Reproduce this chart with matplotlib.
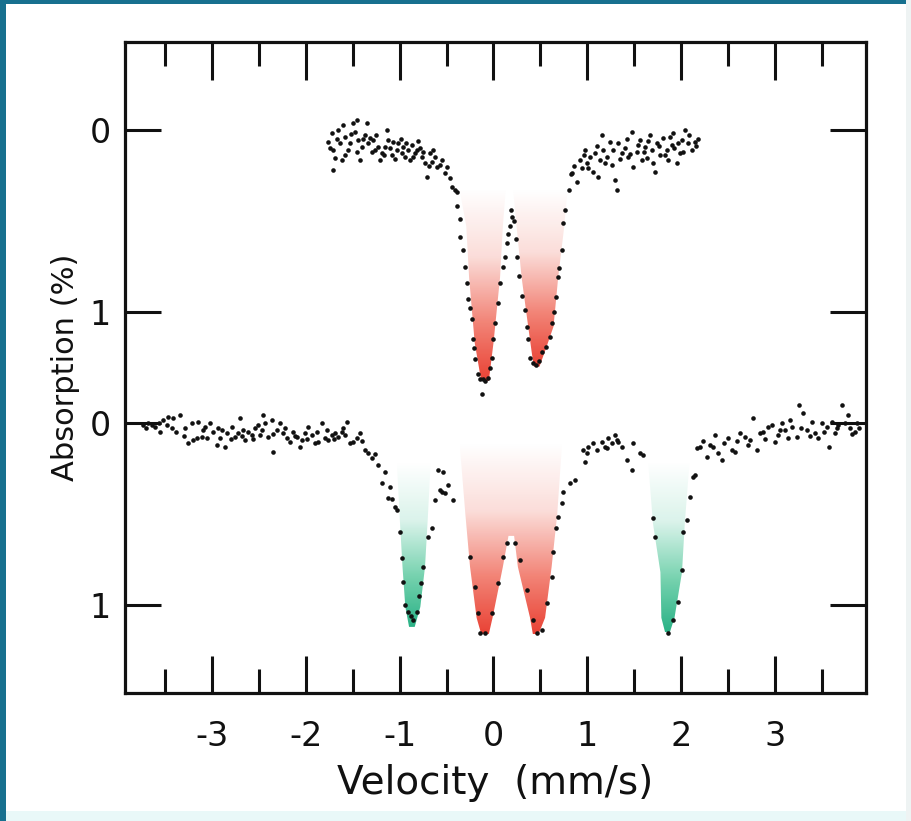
import numpy as np
import matplotlib
matplotlib.use("Agg")
import matplotlib.pyplot as plt
from matplotlib.colors import LinearSegmentedColormap
from matplotlib.patches import Polygon, Rectangle

# ---------------------------------------------------------------------
# DATA  (velocity in mm/s, absorption in %)
# ---------------------------------------------------------------------
# upper spectrum: doublet
top_v = [
    -1.761, -1.725, -1.708, -1.690, -1.708, -1.654, -1.636, -1.619, -1.601, -1.583,
    -1.548, -1.530, -1.494, -1.477, -1.459, -1.441, -1.423, -1.405, -1.370, -1.352,
    -1.334, -1.317, -1.281, -1.263, -1.228, -1.210, -1.192, -1.157, -1.139, -1.121,
    -1.086, -1.068, -1.032, -1.014, -0.979, -0.961, -0.944, -0.908, -0.890, -0.872,
    -0.837, -0.819, -0.784, -0.766, -0.730, -0.712, -0.677, -0.659, -0.623, -0.605,
    -0.570, -0.552, -0.517, -0.499, -0.464, -0.446, -0.410, -0.393,
    -1.74, -1.67, -1.58, -1.52, -1.46, -1.39, -1.30, -1.25, -1.17, -1.10,
    -1.05, -0.99, -0.93, -0.86, -0.80, -0.75, -0.69, -0.64,
    -0.39, -0.36, -0.36, -0.33, -0.30, -0.28, -0.27, -0.25, -0.23, -0.22,
    -0.21, -0.20, -0.16, -0.14, -0.11, -0.12, -0.09, -0.06, -0.04, -0.02,
    0.00, 0.02, 0.05, 0.07, 0.10, 0.12, 0.14, 0.16, 0.18, 0.20,
    0.19, 0.22, 0.24, 0.25, 0.27, 0.30, 0.34, 0.36, 0.37, 0.39,
    0.42, 0.45, 0.48, 0.52, 0.56, 0.60, 0.62, 0.64, 0.67, 0.69,
    0.70, 0.73, 0.74, 0.76, 0.80, 0.83,
    0.833, 0.887, 0.922, 0.940, 0.975, 0.993, 1.029, 1.064, 1.082, 1.118,
    1.135, 1.153, 1.171, 1.206, 1.242, 1.260, 1.295, 1.313, 1.331, 1.366,
    1.402, 1.437, 1.473, 1.491, 1.526, 1.562, 1.580, 1.615, 1.633, 1.668,
    1.704, 1.722, 1.740, 1.775, 1.811, 1.846, 1.864, 1.899, 1.917, 1.953,
    1.988, 2.006, 2.042, 2.077, 2.113, 2.148,
    0.86, 0.96, 1.01, 1.10, 1.19, 1.27, 1.35, 1.42, 1.46, 1.54,
    1.60, 1.65, 1.69, 1.76, 1.83, 1.88, 1.93, 1.97, 2.02, 2.09,
    2.16, 2.18,
]
top_abs = [
    0.064, 0.018, 0.110, 0.156, 0.220, 0.000, 0.073, 0.165, -0.027, 0.037,
    0.110, 0.073, -0.037, 0.009, -0.055, 0.055, 0.165, 0.092, 0.027, -0.037,
    0.073, 0.046, 0.055, 0.110, 0.092, 0.165, 0.128, 0.092, 0.000, 0.055,
    0.137, 0.064, 0.110, 0.073, 0.128, 0.092, 0.147, 0.110, 0.165, 0.082,
    0.128, 0.110, 0.101, 0.147, 0.183, 0.256, 0.128, 0.174, 0.147, 0.201,
    0.192, 0.165, 0.238, 0.201, 0.266, 0.311, 0.330, 0.339,
    0.10, 0.05, 0.14, 0.02, 0.12, 0.05, 0.12, 0.03, 0.14, 0.10,
    0.16, 0.05, 0.07, 0.15, 0.06, 0.12, 0.20, 0.11,
    0.42, 0.49, 0.59, 0.66, 0.75, 0.84, 0.93, 0.98, 1.04, 1.15,
    1.20, 1.26, 1.34, 1.37, 1.37, 1.45, 1.38, 1.36, 1.31, 1.25,
    1.15, 1.06, 0.95, 0.84, 0.75, 0.70, 0.62, 0.57, 0.53, 0.48,
    0.44, 0.50, 0.60, 0.70, 0.80, 0.91, 0.99, 1.08, 1.15, 1.25,
    1.28, 1.29, 1.27, 1.22, 1.19, 1.14, 1.06, 1.00, 0.92, 0.81,
    0.76, 0.66, 0.51, 0.44, 0.33, 0.24,
    0.238, 0.284, 0.165, 0.211, 0.110, 0.183, 0.147, 0.229, 0.128, 0.256,
    0.165, 0.027, 0.110, 0.147, 0.064, 0.192, 0.275, 0.330, 0.073, 0.128,
    0.101, 0.147, 0.009, 0.201, 0.119, 0.055, 0.165, 0.092, 0.156, 0.027,
    0.183, 0.229, 0.073, 0.137, 0.046, 0.110, 0.165, 0.082, 0.018, 0.183,
    0.128, 0.055, 0.000, 0.073, 0.110, 0.064,
    0.20, 0.14, 0.21, 0.09, 0.18, 0.11, 0.16, 0.05, 0.13, 0.08,
    0.12, 0.06, 0.11, 0.09, 0.14, 0.04, 0.10, 0.07, 0.12, 0.03,
    0.09, 0.05,
]

# lower spectrum: doublet + two outer lines
bot_v = [
    -3.733, -3.680, -3.609, -3.555, -3.520, -3.484, -3.466, -3.431, -3.413, -3.342,
    -3.289, -3.253, -3.218, -3.200, -3.165, -3.147, -3.111, -3.076, -3.058, -3.022,
    -2.987, -2.951, -2.934, -2.898, -2.863, -2.845, -2.791, -2.756, -2.720, -2.703,
    -2.667, -2.649, -2.614, -2.578, -2.543, -2.507, -2.489, -2.454, -2.436, -2.400,
    -2.365, -2.347, -2.311, -2.276, -2.240, -2.205, -2.169, -2.134, -2.098, -2.063,
    -2.045, -2.010, -1.974, -1.938, -1.903, -1.867, -1.832, -1.796, -1.761, -1.725,
    -1.690, -1.654, -1.618, -1.583, -1.565, -1.530, -1.494, -1.423, -1.370, -1.334,
    -1.299, -1.228, -1.192, -1.121, -1.103, -1.050, -1.032, -0.979, -0.961, -0.943,
    -0.907, -0.855, -0.748,
    -3.70, -3.64, -3.57, -3.38, -3.30, -3.10, -2.92, -2.80, -2.68, -2.56,
    -2.47, -2.35, -2.22, -2.12, -1.99, -1.88, -1.78, -1.70, -1.60, -1.46,
    -1.40, -1.26, -1.16, -1.08, -1.00, -0.88, -0.82, -0.79, -0.77,
    -0.695, -0.659, -0.623, -0.588, -0.570, -0.552, -0.535, -0.517, -0.481, -0.428,
    -0.251, -0.198, -0.162, -0.144, -0.091, -0.020, 0.052, 0.105, 0.141, 0.230,
    0.283, 0.354, 0.425, 0.460, 0.514, 0.567, 0.620, 0.638, 0.667, 0.691,
    0.727, 0.745, 0.816, 0.869, 0.976, 0.994,
    0.958, 1.011, 1.065, 1.100, 1.153, 1.189, 1.225, 1.260, 1.296, 1.331,
    1.367, 1.420, 1.473, 1.491, 1.562, 1.598, 1.206, 1.313,
    1.704, 1.722, 1.864, 1.917, 1.970, 2.006, 2.024, 2.059, 2.095, 2.131,
    2.148,
    2.166, 2.202, 2.273, 2.308, 2.362, 2.397, 2.433, 2.504, 2.539, 2.575,
    2.628, 2.681, 2.735, 2.770, 2.806, 2.841, 2.877, 2.930, 2.966, 3.002,
    3.037, 3.073, 3.108, 3.162, 3.180, 3.233, 3.262, 3.304, 3.340, 3.393,
    3.428, 3.464, 3.500, 3.553, 3.582, 3.606, 3.642, 3.677, 3.713, 3.748,
    3.784, 3.802, 3.855, 3.873,
    2.23, 2.34, 2.46, 2.60, 2.71, 2.90, 3.05, 3.14, 3.28, 3.37,
    3.52, 3.66, 3.82, 3.90,
]
bot_abs = [
    0.011, 0.002, 0.020, 0.048, -0.016, 0.011, -0.035, 0.029, -0.026, -0.044,
    0.029, 0.112, 0.002, 0.093, 0.084, -0.007, 0.075, 0.020, 0.084, 0.002,
    0.048, 0.121, 0.029, 0.038, 0.130, 0.057, 0.020, 0.075, 0.057, -0.026,
    0.038, 0.093, 0.048, 0.066, 0.029, 0.011, 0.066, -0.044, 0.002, 0.075,
    -0.016, 0.158, 0.038, 0.002, 0.057, 0.084, 0.103, 0.048, 0.075, 0.130,
    0.093, 0.057, 0.020, 0.066, 0.112, 0.103, 0.002, 0.084, 0.093, 0.066,
    0.057, 0.075, 0.048, 0.066, -0.007, 0.112, 0.103, 0.057, 0.148, 0.167,
    0.194, 0.231, 0.331, 0.414, 0.350, 0.460, 0.478, 0.744, 0.872, 1.000,
    1.037, 1.082, 0.789,
    0.03, 0.01, 0.00, 0.05, 0.07, 0.04, 0.08, 0.09, 0.07, 0.09,
    0.04, 0.06, 0.03, 0.07, 0.09, 0.05, 0.04, 0.09, 0.03, 0.08,
    0.10, 0.17, 0.27, 0.42, 0.60, 1.06, 1.04, 0.95, 0.88,
    0.625, 0.579, 0.423, 0.258, 0.368, 0.377, 0.267, 0.386, 0.341, 0.423,
    0.734, 0.899, 1.046, 1.156, 1.156, 1.046, 0.881, 0.734, 0.661, 0.661,
    0.753, 0.918, 1.082, 1.156, 1.137, 0.991, 0.844, 0.707, 0.579, 0.515,
    0.441, 0.377, 0.331, 0.313, 0.212, 0.167,
    0.148, 0.130, 0.112, 0.148, 0.103, 0.130, 0.084, 0.112, 0.066, 0.103,
    0.130, 0.203, 0.258, 0.112, 0.167, 0.176, 0.139, 0.092,
    0.524, 0.624, 1.156, 1.082, 0.981, 0.808, 0.597, 0.533, 0.405, 0.295,
    0.286,
    0.139, 0.130, 0.185, 0.121, 0.066, 0.167, 0.203, 0.084, 0.148, 0.158,
    0.057, 0.075, 0.092, -0.026, 0.148, 0.057, 0.048, 0.020, 0.011, 0.103,
    0.066, 0.002, 0.038, -0.016, 0.020, 0.075, -0.099, -0.055, 0.038, -0.007,
    0.057, 0.084, 0.002, 0.020, 0.130, -0.007, 0.057, 0.011, -0.099, 0.002,
    -0.044, 0.029, 0.048, 0.002,
    0.10, 0.13, 0.11, 0.10, 0.12, 0.09, 0.04, 0.08, 0.03, 0.07,
    0.05, 0.03, 0.06, 0.03,
]

# outlines of the shaded absorption lines (velocity, absorption)
red_top_left_v = [-0.36, -0.29, -0.26, -0.20, -0.13, -0.05, 0.00, 0.07, 0.10, 0.13]
red_top_left_a = [0.33, 0.53, 0.81, 1.17, 1.38, 1.38, 1.17, 0.81, 0.53, 0.33]
red_top_right_v = [0.21, 0.25, 0.30, 0.37, 0.41, 0.43, 0.49, 0.56, 0.64, 0.69, 0.75, 0.79]
red_top_right_a = [0.33, 0.55, 0.81, 1.08, 1.23, 1.30, 1.30, 1.20, 1.08, 0.81, 0.55, 0.33]
red_bot_v = [-0.36, -0.30, -0.25, -0.18, -0.13, -0.05, -0.01, 0.10, 0.16,
             0.22, 0.26, 0.39, 0.42, 0.48, 0.55, 0.62, 0.68, 0.73]
red_bot_a = [0.12, 0.50, 0.79, 1.07, 1.16, 1.16, 1.07, 0.79, 0.62,
             0.62, 0.79, 1.07, 1.16, 1.16, 1.07, 0.79, 0.50, 0.12]
green_left_v = [-1.03, -1.00, -0.97, -0.94, -0.90, -0.84, -0.78, -0.73, -0.70, -0.67]
green_left_a = [0.22, 0.52, 0.79, 1.01, 1.12, 1.12, 1.01, 0.79, 0.52, 0.22]
green_right_v = [1.65, 1.70, 1.78, 1.79, 1.83, 1.88, 1.93, 2.01, 2.04, 2.09]
green_right_a = [0.22, 0.55, 0.82, 1.07, 1.15, 1.15, 1.07, 0.82, 0.55, 0.22]

x_ticks = [-3, -2, -1, 0, 1, 2, 3]
x_minor = [-3.5, -2.5, -1.5, -0.5, 0.5, 1.5, 2.5, 3.5]
y_ticklabels = ["0", "1", "0", "1"]

# ---------------------------------------------------------------------
# LAYOUT
# ---------------------------------------------------------------------
OFFSET = 1.61          # vertical shift of the lower spectrum
FONT = "DejaVu Sans"
BLUE = "#17708f"
INK = "#111111"

red_cmap = LinearSegmentedColormap.from_list(
    "red", [(0, "#ffffff"), (0.35, "#fbdcd8"), (0.7, "#f27c6e"), (1, "#e8382a")])
green_cmap = LinearSegmentedColormap.from_list(
    "green", [(0, "#ffffff"), (0.35, "#d9f3ea"), (0.7, "#6ccfa9"), (1, "#1fae80")])


def _shade(ax, vs, absv, shift, cmap):
    """Vertical gradient fill clipped to an absorption line outline"""
    ys = [a + shift for a in absv]
    poly = Polygon(list(zip(vs, ys)), closed=True, facecolor="none",
                   edgecolor="none")
    ax.add_patch(poly)
    grad = np.linspace(0, 1, 256).reshape(-1, 1)
    im = ax.imshow(grad, cmap=cmap, aspect="auto", origin="upper",
                   extent=(min(vs), max(vs), max(ys), min(ys)), zorder=1,
                   interpolation="bilinear", alpha=0.95)
    im.set_clip_path(poly)


fig = plt.figure(figsize=(9.11, 8.21), dpi=100)
fig.patch.set_facecolor("white")

# picture frame
fig.patches.append(Rectangle((0, 0), 6 / 911, 1, transform=fig.transFigure,
                             facecolor=BLUE, edgecolor="none", zorder=0))
fig.patches.append(Rectangle((0, 1 - 4 / 821), 1, 4 / 821, transform=fig.transFigure,
                             facecolor=BLUE, edgecolor="none", zorder=0))
fig.patches.append(Rectangle((6 / 911, 0), 1, 10 / 821, transform=fig.transFigure,
                             facecolor="#e9f8f8", edgecolor="none", zorder=0))
fig.patches.append(Rectangle((1 - 5 / 911, 0), 5 / 911, 1, transform=fig.transFigure,
                             facecolor="#eef3f3", edgecolor="none", zorder=0))

ax = fig.add_axes([0.1372, 0.1555, 0.8130, 0.7937])

_shade(ax, red_top_left_v, red_top_left_a, 0, red_cmap)
_shade(ax, red_top_right_v, red_top_right_a, 0, red_cmap)
_shade(ax, red_bot_v, red_bot_a, OFFSET, red_cmap)
_shade(ax, green_left_v, green_left_a, OFFSET, green_cmap)
_shade(ax, green_right_v, green_right_a, OFFSET, green_cmap)

ax.plot(top_v, top_abs, "o", ms=3.3, color=INK, mew=0, zorder=3)
ax.plot(bot_v, [a + OFFSET for a in bot_abs], "o", ms=3.3, color=INK,
        mew=0, zorder=3)

ax.set_xlim(-3.929, 3.968)
ax.set_ylim(3.095, -0.485)

ax.set_xticks(x_ticks)
ax.set_xticklabels([str(t) for t in x_ticks])
ax.set_xticks(x_minor, minor=True)
ax.set_yticks([0, 1, OFFSET, OFFSET + 1])
ax.set_yticklabels(y_ticklabels)

for s in ax.spines.values():
    s.set_linewidth(2.3)
    s.set_color(INK)

ax.tick_params(axis="x", which="major", direction="in", length=27, width=2.2,
               top=True, bottom=True, labelsize=24, pad=19, colors=INK)
ax.tick_params(axis="x", which="minor", direction="in", length=17, width=2.2,
               top=True, bottom=True, colors=INK)
ax.tick_params(axis="y", which="major", direction="in", length=26, width=2.2,
               left=True, right=True, labelsize=24, pad=10, colors=INK)

for lab in ax.get_xticklabels() + ax.get_yticklabels():
    lab.set_fontfamily(FONT)

ax.set_xlabel("Velocity  (mm/s)", fontsize=28, family=FONT, labelpad=8,
              color=INK)
ax.set_ylabel("Absorption (%)", fontsize=22, family=FONT, labelpad=7,
              color=INK)

plt.savefig("out.png", dpi=100, facecolor=fig.get_facecolor())
plt.close()
